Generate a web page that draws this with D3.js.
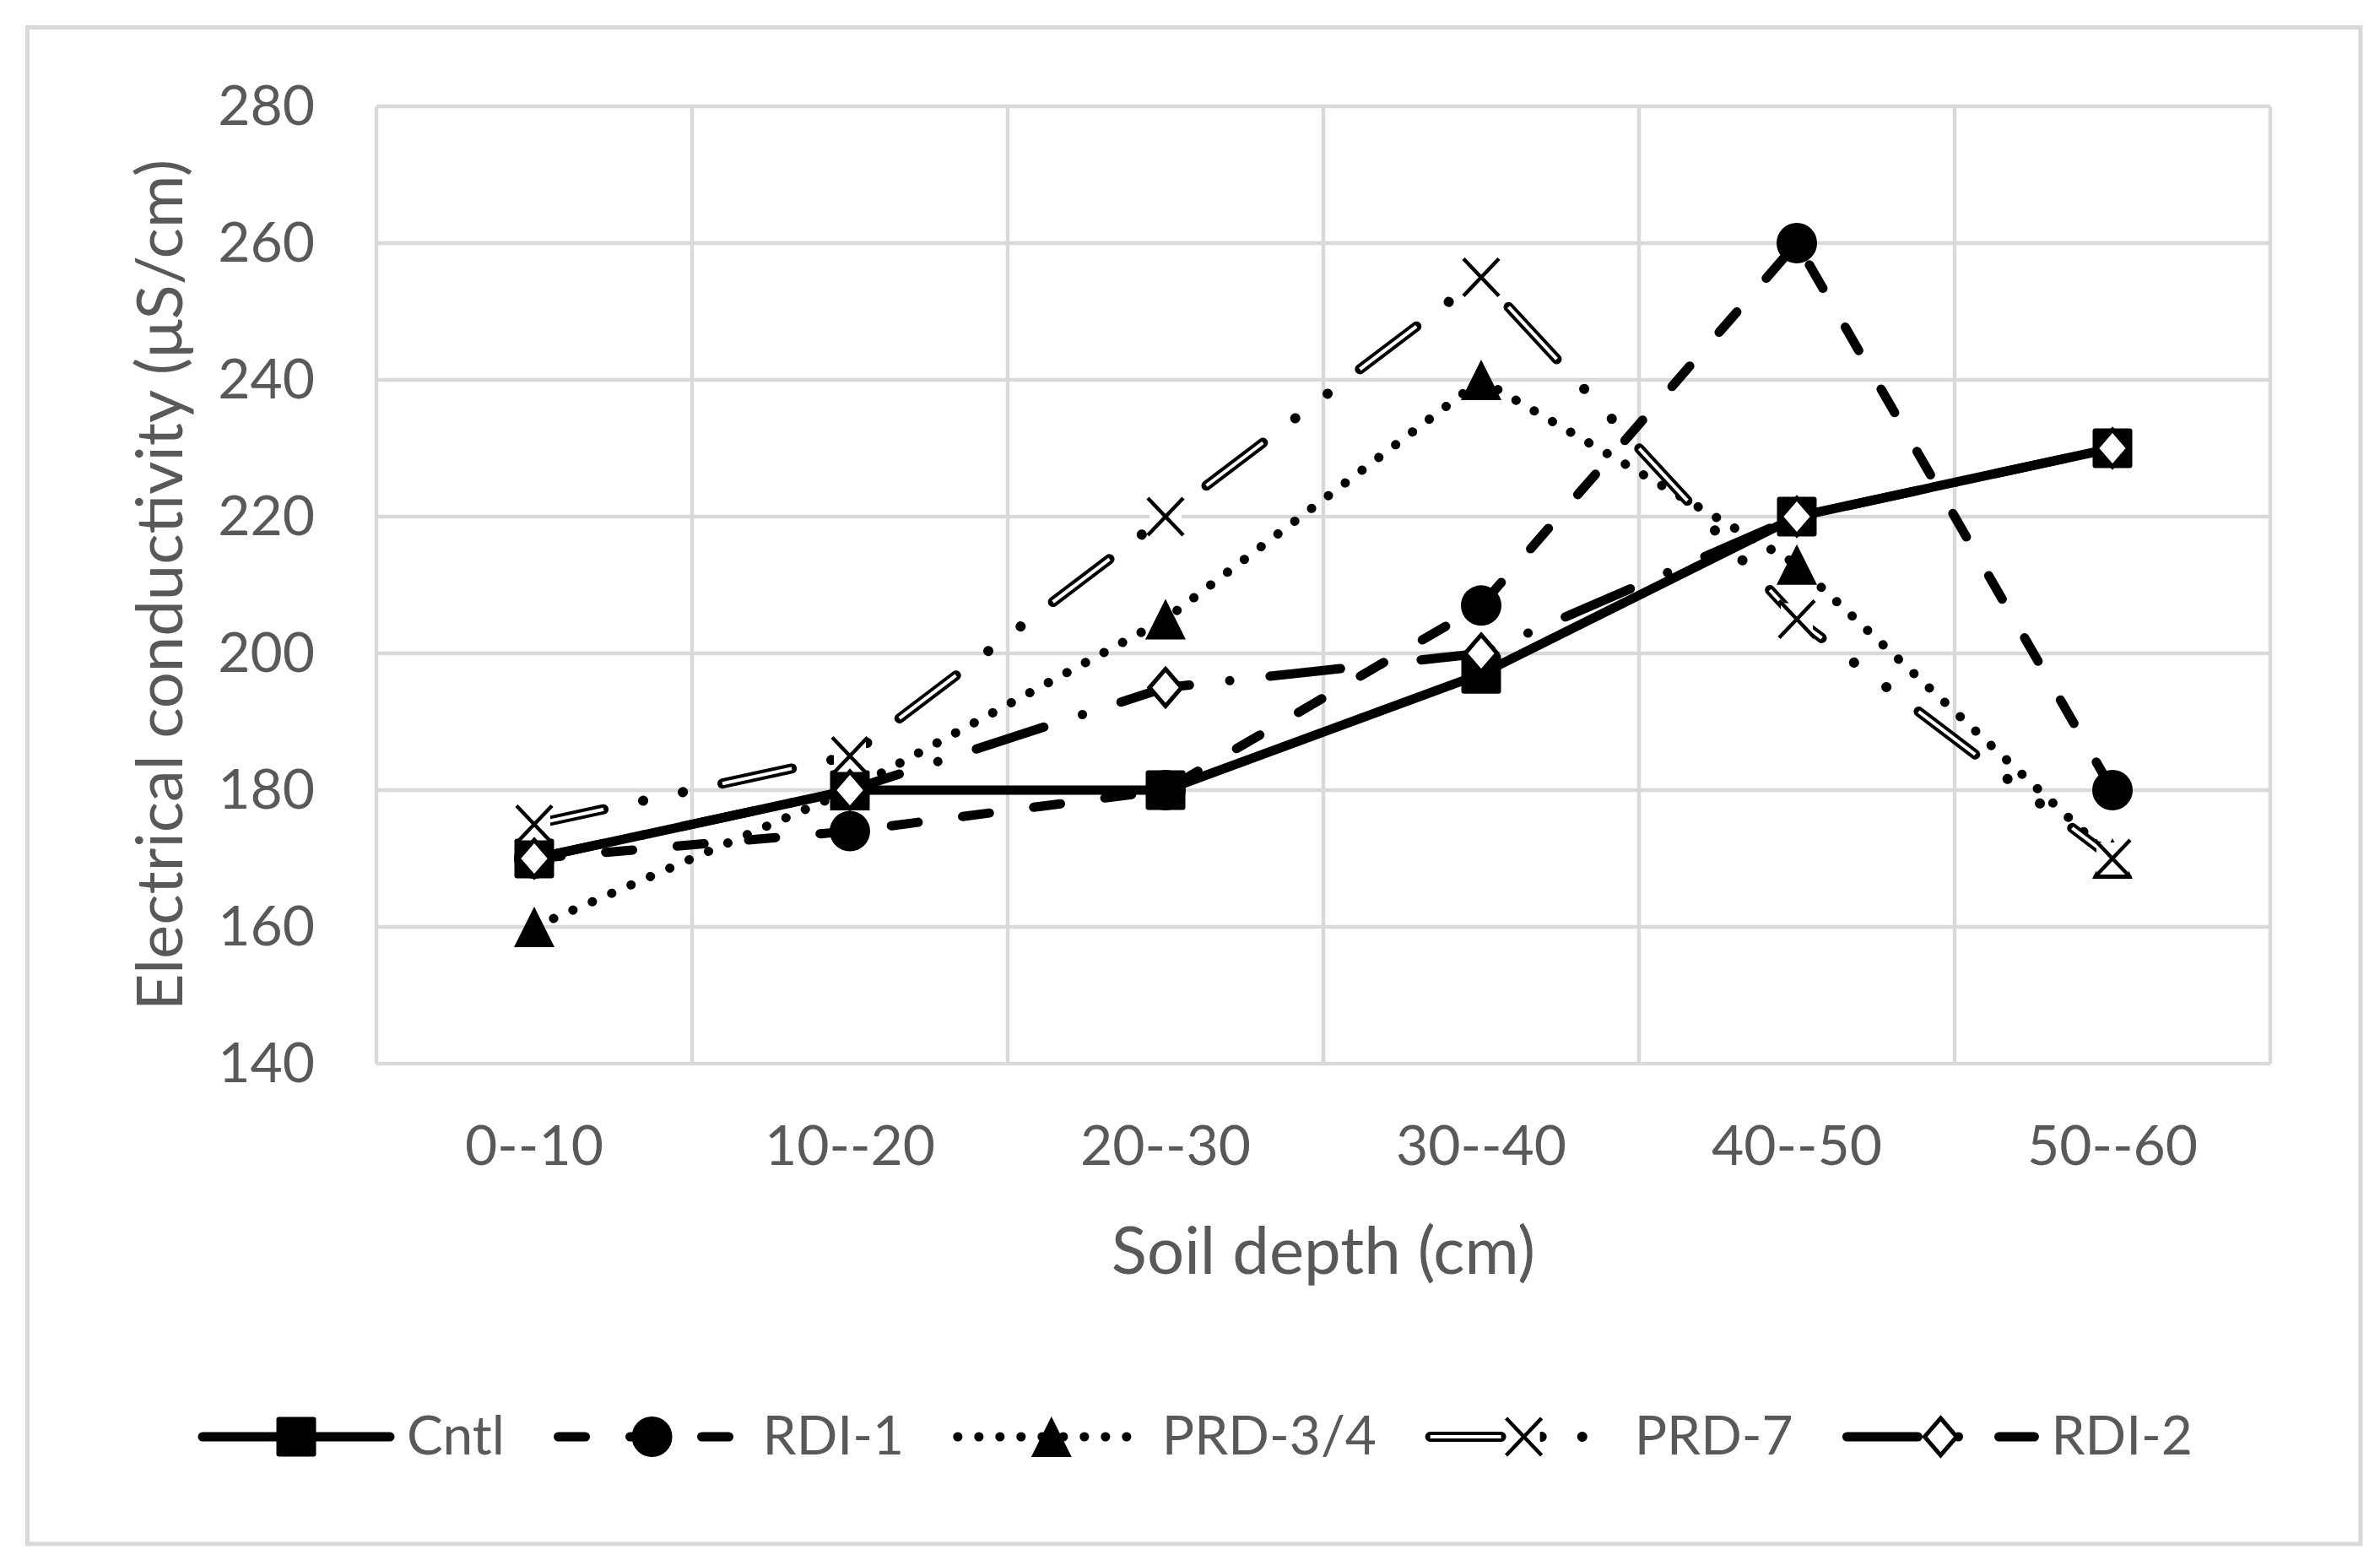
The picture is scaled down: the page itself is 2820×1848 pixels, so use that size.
<!DOCTYPE html>
<html>
<head>
<meta charset="utf-8">
<script src="https://cdn.jsdelivr.net/npm/d3@7"></script>
<style>
  html, body { margin: 0; padding: 0; background: #fff; }
  svg { display: block; }
  text { font-family: Lato, "Open Sans", sans-serif; fill: #595959; }
</style>
</head>
<body>
<div class="container"></div>
<script>
// data
const categories = ["0--10", "10--20", "20--30", "30--40", "40--50", "50--60"];
const cntl  = [170, 180, 180, 197, 220, 230];
const rdi1  = [170, 174, 180, 207, 260, 180];
const prd34 = [160, 180, 205, 240, 213, 170];
const prd7  = [175, 185, 220, 255, 205, 170];
const rdi2  = [170, 180, 195, 200, 220, 230];
const yTicks = [140, 160, 180, 200, 220, 240, 260, 280];
const seriesNames = ["Cntl", "RDI-1", "PRD-3/4", "PRD-7", "RDI-2"];

const W = 2820, H = 1848;
const pLeft = 446, pRight = 2690, pTop = 126, pBottom = 1260;
const lw = 11;

const series = [
    { name: seriesNames[0], values: cntl,  dash: null,                  marker: "square" },
    { name: seriesNames[1], values: rdi1,  dash: "32 53",               marker: "circle" },
    { name: seriesNames[2], values: prd34, dash: "0.1 24.9",            marker: "triangle" },
    { name: seriesNames[3], values: prd7,  dash: "84 48 0.1 48 0.1 48", marker: "x", double: "84 144.2" },
    { name: seriesNames[4], values: rdi2,  dash: "84 48 0.1 48",        marker: "diamond" },
];

const x = d3.scaleBand().domain(categories).range([pLeft, pRight]).paddingInner(0).paddingOuter(0);
const y = d3.scaleLinear().domain([140, 280]).range([pBottom, pTop]);
const cx = (c) => x(c) + x.bandwidth() / 2;

const svg = d3.select(".container").append("svg")
    .attr("width", W).attr("height", H);

svg.append("rect")
    .attr("x", 32.5).attr("y", 32.5)
    .attr("width", 2797 - 32.5).attr("height", 1829 - 32.5)
    .attr("fill", "#fff").attr("stroke", "#d9d9d9").attr("stroke-width", 5);

// grid
svg.append("g").selectAll("line").data(yTicks).enter().append("line")
    .attr("x1", pLeft).attr("x2", pRight)
    .attr("y1", (d) => y(d)).attr("y2", (d) => y(d))
    .attr("stroke", "#d9d9d9").attr("stroke-width", 4.5);
const edges = categories.map((c) => x(c)).concat([pRight]);
svg.append("g").selectAll("line").data(edges).enter().append("line")
    .attr("x1", (d) => d).attr("x2", (d) => d)
    .attr("y1", pTop).attr("y2", pBottom)
    .attr("stroke", "#d9d9d9").attr("stroke-width", 4.5);

// axes (labels only)
const yAxis = svg.append("g").attr("transform", `translate(${373}, 0)`)
    .call(d3.axisLeft(y).tickValues(yTicks).tickSize(0).tickPadding(0));
yAxis.select(".domain").remove();
yAxis.selectAll("text").attr("font-size", 66).attr("dy", "0.32em")
    .style("font-family", "Lato").attr("fill", "#595959");

const xAxis = svg.append("g").attr("transform", `translate(0, ${pBottom})`)
    .call(d3.axisBottom(x).tickSize(0).tickPadding(0));
xAxis.select(".domain").remove();
xAxis.selectAll("text").attr("font-size", 66).attr("y", 120).attr("dy", 0)
    .style("font-family", "Lato").attr("fill", "#595959");

svg.append("text")
    .attr("x", (pLeft + pRight) / 2).attr("y", 1509)
    .attr("text-anchor", "middle").attr("font-size", 78)
    .text("Soil depth (cm)");

svg.append("text")
    .attr("transform", `translate(216, ${(pTop + pBottom) / 2}) rotate(-90)`)
    .attr("text-anchor", "middle").attr("font-size", 76)
    .text("Electrical conductivity (μS/cm)");

// markers
const markerPath = (type) => {
    switch (type) {
        case "square": return "M-23.5,-20.5 Q-23.5,-23.5 -20.5,-23.5 L20.5,-23.5 Q23.5,-23.5 23.5,-20.5 L23.5,20.5 Q23.5,23.5 20.5,23.5 L-20.5,23.5 Q-23.5,23.5 -23.5,20.5 Z";
        case "circle": return d3.arc()({ innerRadius: 0, outerRadius: 24, startAngle: 0, endAngle: 2 * Math.PI });
        case "triangle": return "M0,-24 L24,24 L-24,24 Z";
        case "x": return "M-21,-22 L21,22 M21,-22 L-21,22";
        case "diamond": return "M0,-22 L19,0 L0,22 L-19,0 Z";
    }
};
const drawMarker = (g, type, px, py) => {
    if (type === "x") {
        // the X marker sits on a white fill, as in the original
        g.append("rect").attr("x", px - 19).attr("y", py - 19)
            .attr("width", 38).attr("height", 38).attr("fill", "#fff");
    }
    const p = g.append("path").attr("d", markerPath(type))
        .attr("transform", `translate(${px},${py})`);
    if (type === "x") p.attr("fill", "none").attr("stroke", "#000").attr("stroke-width", 4.5);
    else if (type === "diamond") p.attr("fill", "#fff").attr("stroke", "#000").attr("stroke-width", 5).attr("stroke-linejoin", "miter");
    else p.attr("fill", "#000").attr("stroke-linejoin", "round");
};

const drawLine = (g, s, d) => {
    const path = g.append("path").attr("d", d)
        .attr("fill", "none").attr("stroke", "#000")
        .attr("stroke-width", s.double ? 12 : lw)
        .attr("stroke-linecap", "round").attr("stroke-linejoin", "round");
    if (s.dash) path.attr("stroke-dasharray", s.dash);
    if (s.double) {
        g.append("path").attr("d", d)
            .attr("fill", "none").attr("stroke", "#fff")
            .attr("stroke-width", 4).attr("stroke-linecap", "butt")
            .attr("stroke-dasharray", s.double);
    }
};

const line = d3.line().x((d) => cx(d[0])).y((d) => y(d[1]));
const plot = svg.append("g");
series.forEach((s) => {
    const pts = categories.map((c, i) => [c, s.values[i]]);
    drawLine(plot, s, line(pts));
});
series.forEach((s) => {
    categories.forEach((c, i) => drawMarker(plot, s.marker, cx(c), y(s.values[i])));
});

// legend
const legY = 1702, lineLen = 222, textGap = 20;
const legStart = 240, legEnd = 2598;
const leg = svg.append("g");
const texts = series.map((s) => leg.append("text")
    .attr("font-size", 64).attr("y", 1723).text(s.name));
const widths = texts.map((t) => t.node().getComputedTextLength());
const itemGap = (legEnd - legStart - d3.sum(widths) - series.length * (lineLen + textGap)) / (series.length - 1);
let x0 = legStart;
series.forEach((s, i) => {
    drawLine(leg, s, `M${x0},${legY} L${x0 + lineLen},${legY}`);
    drawMarker(leg, s.marker, x0 + lineLen / 2, legY);
    texts[i].attr("x", x0 + lineLen + textGap);
    x0 += lineLen + textGap + widths[i] + itemGap;
});
</script>
</body>
</html>
